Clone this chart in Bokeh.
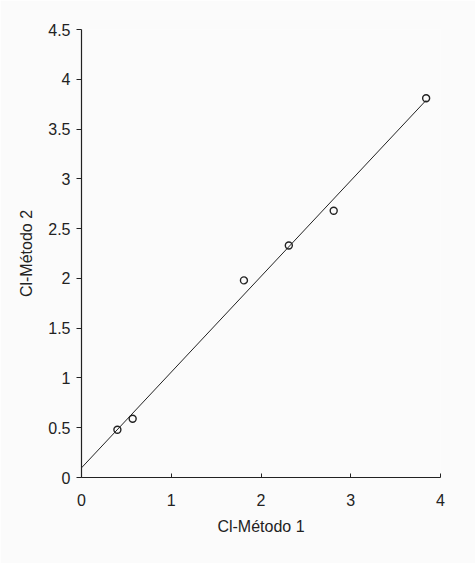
import numpy as np
from bokeh.plotting import figure
from bokeh.models import FixedTicker, Range1d
from bokeh.embed import file_html
from bokeh.resources import INLINE

# Data
metodo1 = [0.40, 0.57, 1.81, 2.31, 2.81, 3.84]
metodo2 = [0.48, 0.59, 1.98, 2.33, 2.68, 3.81]

x_ticks = [0, 1, 2, 3, 4]
x_tick_labels = ["0", "1", "2", "3", "4"]
y_ticks = [0, 0.5, 1, 1.5, 2, 2.5, 3, 3.5, 4, 4.5]
y_tick_labels = ["0", "0.5", "1", "1.5", "2", "2.5", "3", "3.5", "4", "4.5"]

# least-squares trend line through the points, drawn from x=0 to the last point
slope, intercept = np.polyfit(metodo1, metodo2, 1)
fit_x = [0, max(metodo1)]
fit_y = [intercept + slope * v for v in fit_x]

INK = "#222222"
FONT = "Liberation Sans"

p = figure(width=475, height=563, output_backend="svg", toolbar_location=None,
           x_range=Range1d(0, 4), y_range=Range1d(0, 4.5),
           min_border_left=81, min_border_right=35, min_border_top=29, min_border_bottom=86,
           background_fill_color="#fbfbfb", border_fill_color="#fbfbfb")
p.outline_line_color = None
p.grid.visible = False

p.line(fit_x, fit_y, line_color=INK, line_width=1)
p.scatter(metodo1, metodo2, marker="circle", size=7, fill_color=None,
          line_color=INK, line_width=1.4)

xa = p.xaxis[0]
xa.ticker = FixedTicker(ticks=x_ticks)
xa.major_label_overrides = {t: l for t, l in zip(x_ticks, x_tick_labels)}
xa.minor_tick_line_color = None
xa.major_tick_in = 4
xa.major_tick_out = 0
xa.major_label_standoff = 16
xa.axis_label = "Cl-Método 1"
xa.axis_label_standoff = 9

ya = p.yaxis[0]
ya.ticker = FixedTicker(ticks=y_ticks)
ya.major_label_overrides = {t: l for t, l in zip(y_ticks, y_tick_labels)}
ya.minor_tick_line_color = None
ya.major_tick_in = 0
ya.major_tick_out = 5
ya.major_label_standoff = 6
ya.axis_label = "Cl-Método 2"
ya.axis_label_standoff = 10

for ax in (xa, ya):
    ax.axis_line_color = INK
    ax.axis_line_width = 1.2
    ax.major_tick_line_color = INK
    ax.major_label_text_font = FONT
    ax.major_label_text_font_size = "16px"
    ax.major_label_text_color = INK
    ax.axis_label_text_font = FONT
    ax.axis_label_text_font_size = "16px"
    ax.axis_label_text_font_style = "normal"
    ax.axis_label_text_color = INK

open("out.html", "w").write(file_html(p, INLINE))
